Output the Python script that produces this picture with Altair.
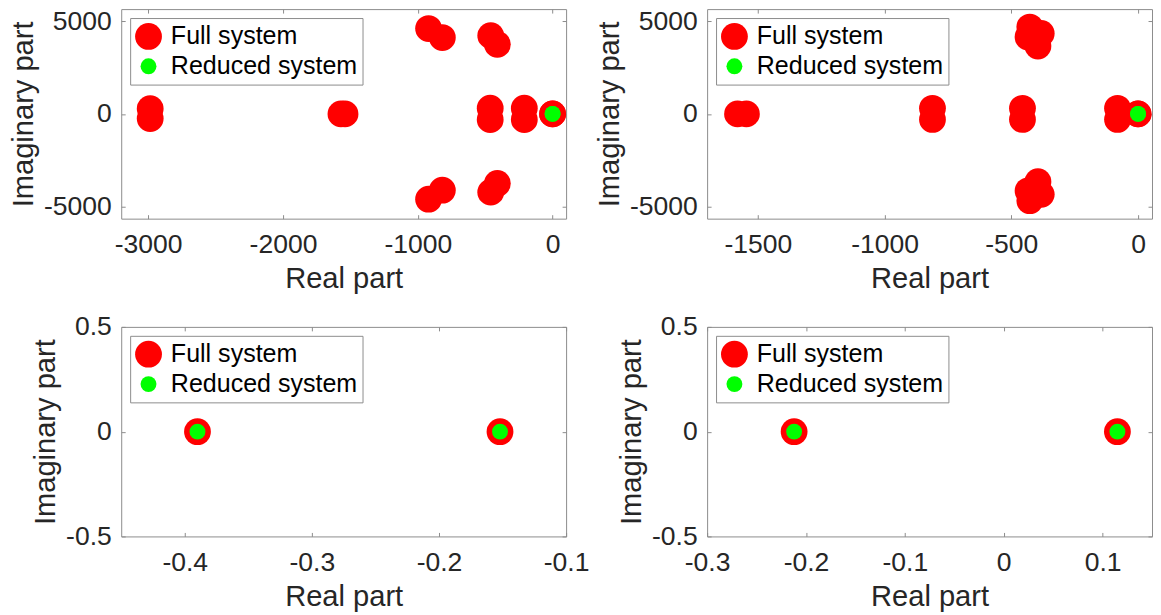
import altair as alt
import pandas as pd

SERIES = ["Full system", "Reduced system"]
COLORS = ["#ff0000", "#00ff00"]
SIZES = [729, 256]

# ---- data ----
# top-left panel
tl_full_re = [-2985, -2985, -1570, -1540, -920, -920, -818, -818, -463, -463,
              -459, -459, -410, -410, -210, -210, -0.39, -0.152]
tl_full_im = [280, -250, 0, 0, 4600, -4600, 4115, -4115, 310, -310,
              4220, -4220, 3750, -3750, 310, -310, 0, 0]
tl_red_re = [-0.39, -0.152]
tl_red_im = [0, 0]

# top-right panel
tr_full_re = [-1580, -1545, -811, -811, -456, -456, -427, -427, -434, -434,
              -382, -382, -395, -395, -81, -81, -0.212, 0.115]
tr_full_im = [0, 0, 300, -300, 300, -300, 4680, -4680, 4150, -4150,
              4340, -4340, 3660, -3660, 300, -300, 0, 0]
tr_red_re = [-0.212, 0.115]
tr_red_im = [0, 0]

# bottom-left panel
bl_full_re = [-0.39, -0.152]
bl_full_im = [0, 0]
bl_red_re = [-0.39, -0.152]
bl_red_im = [0, 0]

# bottom-right panel
br_full_re = [-0.212, 0.115]
br_full_im = [0, 0]
br_red_re = [-0.212, 0.115]
br_red_im = [0, 0]

# axes
tl_xdom, tl_ydom = [-3200, 100], [-5650, 5650]
tr_xdom, tr_ydom = [-1700, 55], [-5650, 5650]
bl_xdom, bl_ydom = [-0.45, -0.1], [-0.5, 0.5]
br_xdom, br_ydom = [-0.3, 0.15], [-0.5, 0.5]
tl_xticks, tl_yticks = [-3000, -2000, -1000, 0], [-5000, 0, 5000]
tr_xticks, tr_yticks = [-1500, -1000, -500, 0], [-5000, 0, 5000]
bl_xticks, bl_yticks = [-0.4, -0.3, -0.2, -0.1], [-0.5, 0, 0.5]
br_xticks, br_yticks = [-0.3, -0.2, -0.1, 0, 0.1], [-0.5, 0, 0.5]

XTITLE = "Real part"
YTITLE = "Imaginary part"

FONT = "Liberation Sans"
TXT = "#262626"
LINE = "#8c8c8c"
W, H = 448, 211


def frame(full_re, full_im, red_re, red_im):
    rows = [(r, i, SERIES[0]) for r, i in zip(full_re, full_im)]
    rows += [(r, i, SERIES[1]) for r, i in zip(red_re, red_im)]
    return pd.DataFrame(rows, columns=["re", "im", "series"])


def main_axis(orient, values, title, pad, tpad):
    return alt.Axis(orient=orient, values=values, title=title, offset=-4,
                    tickSize=4, tickColor=LINE, domain=False, grid=False,
                    labelExpr="toString(datum.value)", labelFont=FONT,
                    labelFontSize=26.7, labelColor=TXT, labelPadding=pad,
                    labelFlush=False, labelOverlap=False,
                    titleFont=FONT, titleFontSize=29.3,
                    titleFontWeight="normal", titleColor=TXT,
                    titlePadding=tpad)


def side_axis(orient, values):
    return alt.Axis(orient=orient, values=values, title=None, labels=False,
                    offset=-4, tickSize=4, tickColor=LINE, domain=False,
                    grid=False)


legend = alt.Legend(orient="top-left", offset=9, title=None, padding=5,
                    strokeColor=LINE, fillColor="white", labelFont=FONT,
                    labelFontSize=25.2, labelColor="#000000", labelOffset=9,
                    labelLimit=400, rowPadding=4, symbolType="circle",
                    symbolStrokeWidth=0, symbolOpacity=1, cornerRadius=0)


def panel(df, xdom, ydom, xticks, yticks):
    xs = alt.Scale(domain=xdom, nice=False, zero=False)
    ys = alt.Scale(domain=ydom, nice=False, zero=False)
    pts = alt.Chart(df).mark_circle(opacity=1).encode(
        x=alt.X("re:Q", scale=xs,
                axis=main_axis("bottom", xticks, XTITLE, 13, 7)),
        y=alt.Y("im:Q", scale=ys,
                axis=main_axis("left", yticks, YTITLE, 10, 5)),
        color=alt.Color("series:N",
                        scale=alt.Scale(domain=SERIES, range=COLORS),
                        legend=legend),
        size=alt.Size("series:N",
                      scale=alt.Scale(domain=SERIES, range=SIZES),
                      legend=legend),
    )
    ghost = alt.Chart(df).mark_point(opacity=0).encode(
        x=alt.X("re:Q", scale=xs, axis=side_axis("top", xticks)),
        y=alt.Y("im:Q", scale=ys, axis=side_axis("right", yticks)),
    )
    return alt.layer(pts, ghost).resolve_axis(
        x="independent", y="independent").properties(width=W, height=H)


tl = panel(frame(tl_full_re, tl_full_im, tl_red_re, tl_red_im),
           tl_xdom, tl_ydom, tl_xticks, tl_yticks)
tr = panel(frame(tr_full_re, tr_full_im, tr_red_re, tr_red_im),
           tr_xdom, tr_ydom, tr_xticks, tr_yticks)
bl = panel(frame(bl_full_re, bl_full_im, bl_red_re, bl_red_im),
           bl_xdom, bl_ydom, bl_xticks, bl_yticks)
br = panel(frame(br_full_re, br_full_im, br_red_re, br_red_im),
           br_xdom, br_ydom, br_xticks, br_yticks)

chart = alt.concat(
    tl, tr, bl, br, columns=2,
    spacing=alt.RowColnumber(row=109, column=142), bounds="flush",
).resolve_scale(
    color="independent", size="independent"
).resolve_legend(
    color="independent", size="independent"
).properties(
    padding={"top": -3, "left": 1, "right": 0, "bottom": 0},
    background="white",
).configure_view(stroke=LINE, strokeWidth=1)

chart.save("out.html", embed_options={"renderer": "svg", "actions": False})
